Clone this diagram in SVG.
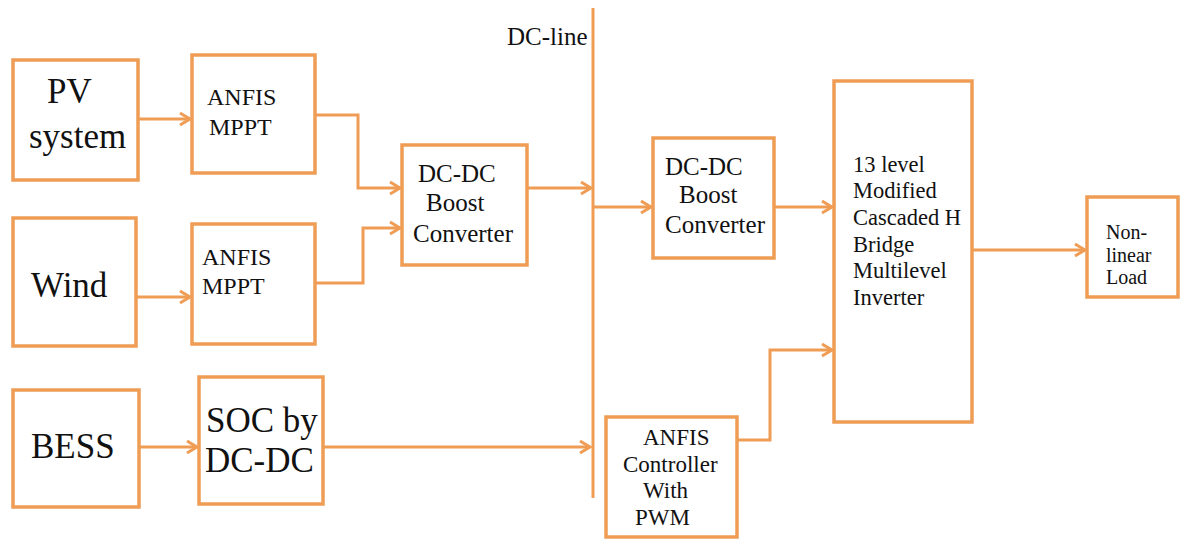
<svg xmlns="http://www.w3.org/2000/svg" width="1180" height="540" viewBox="0 0 1180 540">
<style>
.box{fill:#fff;stroke:#EF9D55;stroke-width:3.5}
.ln{fill:none;stroke:#EF9D55;stroke-width:3}
text{fill:#111;font-family:"Liberation Serif","Times New Roman",serif}
.big{font-size:35px}
.mid{font-size:25px}
.sm{font-size:22.5px}
.mp{font-size:24px}
.ct{font-size:23px}
.xs{font-size:20px}
</style>
<defs>
<marker id="arr" markerUnits="userSpaceOnUse" markerWidth="14" markerHeight="16" refX="11" refY="7" orient="auto" viewBox="0 0 14 14">
<path d="M1,1 L11,7 L1,13" fill="none" stroke="#EF9D55" stroke-width="3"/>
</marker>
</defs>
<rect width="1180" height="540" fill="#fff"/>
<g id="connectors">
<line class="ln" x1="593" y1="8" x2="593" y2="498"/>
<path class="ln" d="M138,119 H190" marker-end="url(#arr)"/>
<path class="ln" d="M136,297 H190" marker-end="url(#arr)"/>
<path class="ln" d="M139,447 H197" marker-end="url(#arr)"/>
<path class="ln" d="M315,115 H358 V188 H400" marker-end="url(#arr)"/>
<path class="ln" d="M315,283 H363 V228 H400" marker-end="url(#arr)"/>
<path class="ln" d="M527,188 H591" marker-end="url(#arr)"/>
<path class="ln" d="M593,207 H651" marker-end="url(#arr)"/>
<path class="ln" d="M323,447 H590" marker-end="url(#arr)"/>
<path class="ln" d="M774,207 H832" marker-end="url(#arr)"/>
<path class="ln" d="M737,440 H770 V350 H832" marker-end="url(#arr)"/>
<path class="ln" d="M972,250 H1085" marker-end="url(#arr)"/>
</g>
<g id="dcline-label"><text class="mid" x="507" y="45">DC-line</text></g>
<g id="pv">
<rect class="box" x="13" y="60" width="125" height="120"/>
<text class="big" x="47" y="103">PV</text>
<text class="big" x="29" y="148">system</text>
</g>
<g id="anfis1">
<rect class="box" x="192" y="55" width="123" height="118"/>
<text class="mp" x="207" y="105">ANFIS</text>
<text class="mp" x="209" y="135">MPPT</text>
</g>
<g id="wind">
<rect class="box" x="13" y="218" width="123" height="128"/>
<text class="big" x="31" y="297">Wind</text>
</g>
<g id="anfis2">
<rect class="box" x="192" y="224" width="123" height="120"/>
<text class="mp" x="202" y="265">ANFIS</text>
<text class="mp" x="202" y="294">MPPT</text>
</g>
<g id="bess">
<rect class="box" x="13" y="390" width="126" height="117"/>
<text class="big" x="31" y="458">BESS</text>
</g>
<g id="soc">
<rect class="box" x="199" y="377" width="124" height="127"/>
<text class="big" x="206" y="432">SOC by</text>
<text class="big" x="205" y="472">DC-DC</text>
</g>
<g id="dcdc1">
<rect class="box" x="402" y="145" width="125" height="120"/>
<text class="mid" x="418" y="182">DC-DC</text>
<text class="mid" x="426" y="211">Boost</text>
<text class="mid" x="413" y="242">Converter</text>
</g>
<g id="dcdc2">
<rect class="box" x="653" y="138" width="121" height="120"/>
<text class="mid" x="665" y="175">DC-DC</text>
<text class="mid" x="679" y="203">Boost</text>
<text class="mid" x="665" y="233">Converter</text>
</g>
<g id="inverter">
<rect class="box" x="834" y="81" width="138" height="341"/>
<text class="sm" x="853" y="172">13 level</text>
<text class="sm" x="853" y="198">Modified</text>
<text class="sm" x="853" y="225">Cascaded H</text>
<text class="sm" x="853" y="252">Bridge</text>
<text class="sm" x="853" y="278">Multilevel</text>
<text class="sm" x="853" y="305">Inverter</text>
</g>
<g id="load">
<rect class="box" x="1087" y="197" width="91" height="100"/>
<text class="xs" x="1106" y="239">Non-</text>
<text class="xs" x="1106" y="262">linear</text>
<text class="xs" x="1106" y="284">Load</text>
</g>
<g id="controller">
<rect class="box" x="606" y="417" width="131" height="120"/>
<text class="ct" x="643" y="445">ANFIS</text>
<text class="ct" x="623" y="472">Controller</text>
<text class="ct" x="643" y="498">With</text>
<text class="ct" x="635" y="525">PWM</text>
</g>
</svg>
